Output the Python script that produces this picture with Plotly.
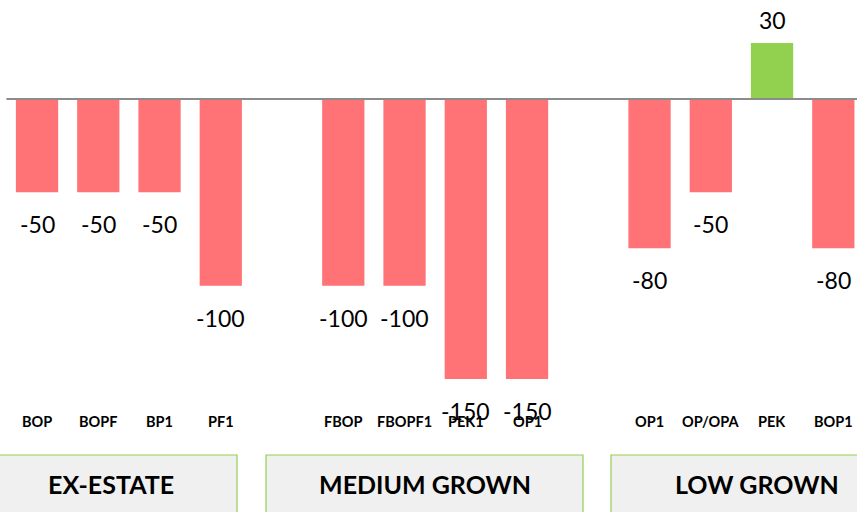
import plotly.graph_objects as go

groups = ["EX-ESTATE", "MEDIUM GROWN", "LOW GROWN"]
grades = [["BOP", "BOPF", "BP1", "PF1"],
          ["FBOP", "FBOPF1", "PEK1", "OP1"],
          ["OP1", "OP/OPA", "PEK", "BOP1"]]
values = [[-50, -50, -50, -100],
          [-100, -100, -150, -150],
          [-80, -50, 30, -80]]

# positions: one empty slot between groups
xs, labels, vals = [], [], []
pos = 0
for g, (gr, vs) in enumerate(zip(grades, values)):
    for name, v in zip(gr, vs):
        xs.append(pos); labels.append(name); vals.append(v)
        pos += 1
    pos += 1

NEG = "#ff7276"
POS = "#92d050"
colors = [POS if v > 0 else NEG for v in vals]
FONT = "Lato"

fig = go.Figure(go.Bar(x=xs, y=vals, marker=dict(color=colors, line=dict(width=0)),
                       width=0.69, hoverinfo="skip"))

annotations = []
for x, v, name in zip(xs, vals, labels):
    annotations.append(dict(x=x, y=v, xref="x", yref="y", text=str(v), showarrow=False,
                            xanchor="center", yanchor="middle",
                            yshift=(-32 if v < 0 else 23), font=dict(family=FONT, size=23, color="#000")))
    annotations.append(dict(x=x, y=1 - 421 / 512, xref="x", yref="paper", text="<b>%s</b>" % name,
                            xanchor="center", yanchor="middle",
                            showarrow=False, font=dict(family=FONT, size=14.5, color="#000")))

shapes = [dict(type="line", xref="x", yref="y", x0=-0.5, x1=14, y0=0, y1=0,
               line=dict(color="#8c8c8c", width=2), layer="above")]
boxes = [(-5, 237), (266, 583), (611, 900)]
centers = [111, 425, 757]
for (a, b), c, name in zip(boxes, centers, groups):
    shapes.append(dict(type="rect", xref="paper", yref="paper", x0=a / 857, x1=b / 857,
                       y0=-0.05, y1=1 - 455 / 512, fillcolor="#f0f0f0",
                       line=dict(color="#92d050", width=1.2), layer="below"))
    annotations.append(dict(x=c / 857, y=1 - 484 / 512, xref="paper", yref="paper",
                            xanchor="center", yanchor="middle",
                            text="<b>%s</b>" % name, showarrow=False,
                            font=dict(family=FONT, size=25, color="#000")))

fig.update_layout(
    width=857, height=512, margin=dict(l=0, r=0, t=0, b=0),
    paper_bgcolor="white", plot_bgcolor="rgba(0,0,0,0)",
    showlegend=False,
    xaxis=dict(range=[-0.6045, 13.387], visible=False, fixedrange=True),
    yaxis=dict(range=[-221.2, 53.0], visible=False, fixedrange=True),
    shapes=shapes, annotations=annotations,
)
fig.write_html("out.html", config={"displayModeBar": False},
               post_script="document.body.style.margin='0';document.body.style.overflow='hidden';")
